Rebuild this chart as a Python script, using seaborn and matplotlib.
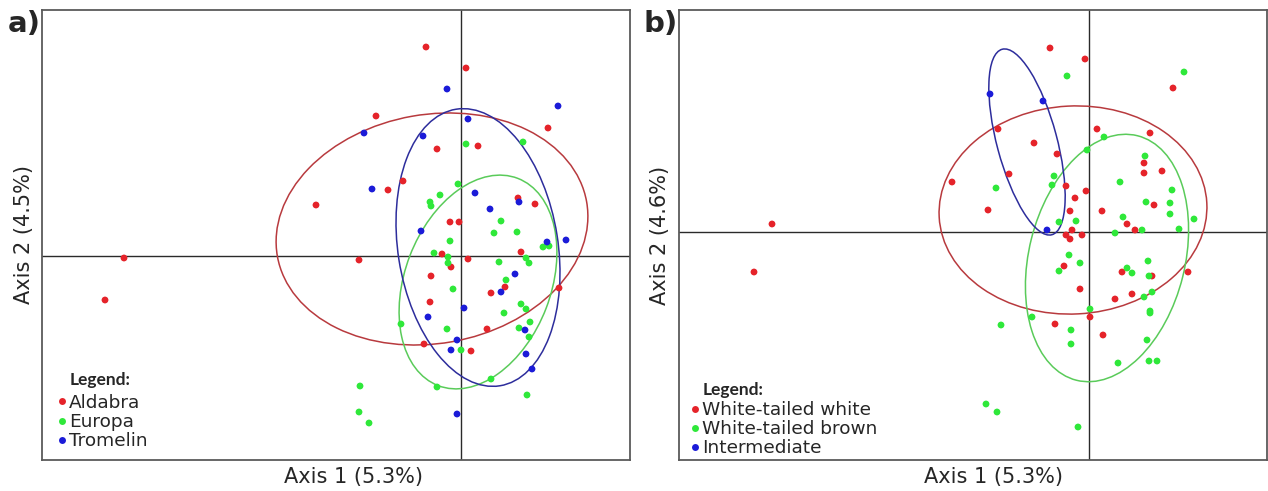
import matplotlib
matplotlib.use("Agg")
import matplotlib.pyplot as plt
from matplotlib.patches import Ellipse
from matplotlib.lines import Line2D
import pandas as pd
import seaborn as sns

# ---------------- Panel a: birds grouped by island ----------------
aldabra_x = [-0.35, 0.05, -0.85, 0.87, -0.24, 0.17, -0.58, -0.73, -1.45, 0.57,
             0.74, -0.11, -0.02, -0.19, 0.60, 0.07, -1.02, -3.37, -3.56, -0.10,
             -0.30, 0.44, 0.30, 0.98, -0.31, 0.26, -0.37, 0.10]
aldabra_y = [2.09, 1.88, 1.40, 1.28, 1.07, 1.10, 0.75, 0.66, 0.51, 0.58,
             0.52, 0.34, 0.34, 0.02, 0.04, -0.03, -0.04, -0.02, -0.44, -0.11,
             -0.20, -0.31, -0.37, -0.32, -0.46, -0.73, -0.88, -0.95]

europa_x = [0.05, 0.62, -0.03, -0.21, -0.31, -0.30, 0.40, 0.33, 0.56, -0.11,
            -0.27, -0.13, -0.13, 0.82, 0.88, 0.65, 0.68, 0.38, 0.45, -0.08,
            0.60, 0.65, 0.43, -0.60, -0.14, 0.69, 0.58, 0.68, 0.00, 0.30,
            -0.24, 0.66, -1.01, -1.02, -0.92]
europa_y = [1.12, 1.14, 0.72, 0.61, 0.54, 0.50, 0.35, 0.23, 0.24, 0.15,
            0.03, -0.01, -0.07, 0.09, 0.10, -0.02, -0.07, -0.06, -0.24, -0.33,
            -0.48, -0.53, -0.57, -0.68, -0.73, -0.66, -0.72, -0.81, -0.94, -1.23,
            -1.31, -1.39, -1.30, -1.56, -1.67]

tromelin_x = [-0.14, 0.97, 0.07, -0.97, -0.38, -0.89, 0.14, 0.29, 0.58, -0.40,
              0.86, 1.05, 0.54, 0.40, 0.03, -0.33, -0.04, -0.10, 0.64, 0.65,
              0.71, -0.04]
tromelin_y = [1.67, 1.50, 1.37, 1.23, 1.20, 0.67, 0.63, 0.47, 0.54, 0.25,
              0.14, 0.16, -0.18, -0.36, -0.52, -0.61, -0.84, -0.94, -0.74, -0.98,
              -1.13, -1.58]

islands = ["Aldabra", "Europa", "Tromelin"]
# dispersion ellipses: centre, axis lengths, orientation (degrees)
island_ell_cx = [-0.29, 0.17, 0.17]
island_ell_cy = [0.27, -0.26, 0.085]
island_ell_w = [3.14, 2.22, 2.80]
island_ell_h = [2.29, 1.46, 1.60]
island_ell_angle = [10, 69, 99]

# ---------------- Panel b: birds grouped by morph ----------------
tw_white_x = [-0.39, -0.04, 0.84, -0.91, 0.08, 0.61, -0.55, -0.32, 0.55, 0.55,
              0.73, -0.80, -1.37, -0.23, -0.03, -1.01, -0.14, -0.19, 0.13, 0.65,
              0.38, 0.46, -0.17, -0.23, -0.19, -0.07, -3.17, -3.35, -0.25, 0.33,
              0.63, 0.99, -0.09, 0.43, 0.26, 0.01, -0.34, 0.14]
tw_white_y = [1.84, 1.73, 1.44, 1.03, 1.03, 0.99, 0.89, 0.78, 0.69, 0.59,
              0.61, 0.58, 0.50, 0.46, 0.41, 0.22, 0.34, 0.21, 0.21, 0.27,
              0.08, 0.02, 0.02, -0.03, -0.07, -0.03, 0.08, -0.40, -0.34, -0.40,
              -0.44, -0.40, -0.57, -0.62, -0.67, -0.85, -0.92, -1.03]

tw_brown_x = [-0.22, 0.95, 0.15, -0.02, 0.56, -0.35, -0.37, -0.93, 0.31, 0.83,
              0.57, 0.81, 0.81, 1.05, 0.34, -0.30, -0.13, 0.26, 0.53, 0.90,
              -0.20, -0.09, -0.30, 0.59, 0.38, 0.43, 0.60, 0.55, 0.63, 0.01,
              -0.57, -0.88, 0.61, 0.61, -0.18, -0.18, 0.58, 0.29, 0.60, 0.68,
              -1.03, -0.92, -0.11]
tw_brown_y = [1.56, 1.60, 0.95, 0.82, 0.76, 0.56, 0.47, 0.44, 0.50, 0.42,
              0.30, 0.29, 0.18, 0.13, 0.15, 0.10, 0.11, -0.01, 0.02, 0.03,
              -0.23, -0.31, -0.39, -0.29, -0.36, -0.41, -0.44, -0.65, -0.60, -0.77,
              -0.85, -0.93, -0.79, -0.81, -0.98, -1.12, -1.08, -1.31, -1.29, -1.29,
              -1.72, -1.80, -1.95]

intermediate_x = [-0.99, -0.46, -0.42]
intermediate_y = [1.38, 1.31, 0.02]

morphs = ["White-tailed white", "White-tailed brown", "Intermediate"]
morph_ell_cx = [-0.16, 0.18, -0.62]
morph_ell_cy = [0.22, -0.26, 0.90]
morph_ell_w = [2.68, 2.52, 1.92]
morph_ell_h = [2.08, 1.56, 0.60]
morph_ell_angle = [3, 76, 105]

# ---------------- styling ----------------
dot_colors = ["#e5232a", "#2fe83a", "#1b1bd8"]
ellipse_colors = ["#b83a3e", "#5acb5a", "#2d2d9c"]

sns.set_style("white")
plt.rcParams["font.family"] = ["DejaVu Sans"]

fig = plt.figure(figsize=(12.68, 4.91), dpi=100)
W, H = 1268, 491


def px_axes(left, top, right, bottom):
    return fig.add_axes([left / W, 1 - bottom / H, (right - left) / W, (bottom - top) / H])


def panel(ax, xs, ys, names, ecx, ecy, ew, eh, ea, xlim, ylim, leg_anchor):
    frames = [pd.DataFrame({"x": x, "y": y, "group": n}) for x, y, n in zip(xs, ys, names)]
    df = pd.concat(frames, ignore_index=True)
    palette = dict(zip(names, dot_colors))
    ax.axhline(0, color="#2a2a2a", lw=1.0, zorder=1)
    ax.axvline(0, color="#2a2a2a", lw=1.0, zorder=1)
    sns.scatterplot(data=df, x="x", y="y", hue="group", palette=palette,
                    hue_order=names, s=24, linewidth=0, ax=ax, legend=False, zorder=3)
    for i in range(len(names)):
        ax.add_patch(Ellipse((ecx[i], ecy[i]), ew[i], eh[i], angle=ea[i],
                             fill=False, ec=ellipse_colors[i], lw=1.1, zorder=2))
    ax.set_xlim(*xlim)
    ax.set_ylim(*ylim)
    ax.set_xticks([])
    ax.set_yticks([])
    ax.set_xlabel("")
    ax.set_ylabel("")
    for sp in ax.spines.values():
        sp.set_color("#5a5a5a")
        sp.set_linewidth(1.3)
    handles = [Line2D([0], [0], marker="o", ls="", markersize=5,
                      markerfacecolor=c, markeredgewidth=0) for c in dot_colors]
    ax.legend(handles, names, loc="lower left", bbox_to_anchor=leg_anchor,
              frameon=False, handlelength=0.45, handletextpad=0.15,
              labelspacing=0.06, borderpad=0.2, fontsize=13.3)


ax_a = px_axes(42, 10, 630, 459.5)
panel(ax_a, [aldabra_x, europa_x, tromelin_x], [aldabra_y, europa_y, tromelin_y],
      islands, island_ell_cx, island_ell_cy, island_ell_w, island_ell_h, island_ell_angle,
      (-4.19, 1.69), (-2.035, 2.46), (0.005, -0.008))

ax_b = px_axes(679, 10, 1267, 459.5)
panel(ax_b, [tw_white_x, tw_brown_x, intermediate_x], [tw_white_y, tw_brown_y, intermediate_y],
      morphs, morph_ell_cx, morph_ell_cy, morph_ell_w, morph_ell_h, morph_ell_angle,
      (-4.10, 1.78), (-2.275, 2.22), (-0.002, -0.024))

# legend headings
for x0, y0 in ((70, 380), (703, 390)):
    fig.text(x0 / W, 1 - y0 / H, "Legend:", family=["Lato", "DejaVu Sans"],
             fontweight="bold", fontsize=12.5, ha="left", va="center")

# axis titles
fig.text(353 / W, 1 - 477 / H, "Axis 1 (5.3%)", ha="center", va="center", fontsize=15)
fig.text(994 / W, 1 - 477 / H, "Axis 1 (5.3%)", ha="center", va="center", fontsize=15)
fig.text(24 / W, 1 - 235 / H, "Axis 2 (4.5%)", ha="center", va="center",
         rotation=90, fontsize=15)
fig.text(660 / W, 1 - 235 / H, "Axis 2 (4.6%)", ha="center", va="center",
         rotation=90, fontsize=15)

# panel tags
fig.text(8 / W, 1 - 32 / H, "a)", fontweight="bold", fontsize=21, ha="left", va="baseline")
fig.text(644 / W, 1 - 32 / H, "b)", fontweight="bold", fontsize=21, ha="left", va="baseline")

fig.savefig("out.png", dpi=100)
